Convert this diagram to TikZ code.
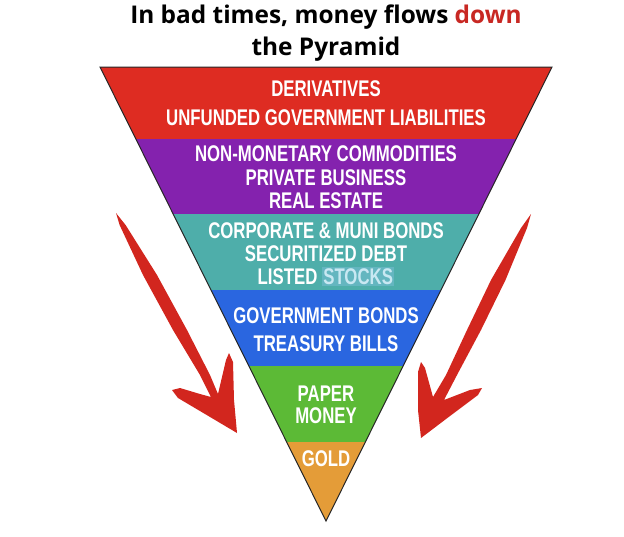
\documentclass[tikz,border=0pt]{standalone}
\usepackage{fontspec}
\setmainfont{Open Sans}
\newfontfamily\bandfont[FakeStretch=0.74]{Liberation Sans}

\definecolor{titlered}{RGB}{200,40,35}
\definecolor{arrowred}{RGB}{210,38,30}
\definecolor{redband}{RGB}{222,44,34}
\definecolor{purpleband}{RGB}{132,34,174}
\definecolor{tealband}{RGB}{78,174,170}
\definecolor{blueband}{RGB}{42,102,224}
\definecolor{greenband}{RGB}{92,186,54}
\definecolor{orangeband}{RGB}{228,156,56}
\definecolor{stockbg}{RGB}{100,182,192}
\definecolor{stockfg}{RGB}{200,232,242}

\tikzset{every picture/.style={line width=0.75pt}}

\begin{document}
\begin{tikzpicture}[x=0.75pt,y=0.75pt,yscale=-1,xscale=1,
  bandtext/.style={font=\bandfont\bfseries\fontsize{17}{20}\selectfont, text=white, inner sep=0pt, text height=12.2pt, text depth=0pt},
  titletext/.style={font=\bfseries\fontsize{18.3}{22}\selectfont, anchor=base, inner sep=0pt}]
\useasboundingbox (0,0) rectangle (624,536);

% title
\node[titletext] (title1) at (326,23.5) {In bad times, money flows \textcolor{titlered}{down}};
\node[titletext] (title2) at (326,55) {the Pyramid};

% bands of the pyramid
\fill[redband] (100,67) -- (552,67) -- (516.2,139) -- (135.8,139) -- cycle;
\fill[purpleband] (135.8,139) -- (516.2,139) -- (478.8,214) -- (173.2,214) -- cycle;
\fill[tealband] (173.2,214) -- (478.8,214) -- (441,290) -- (211,290) -- cycle;
\fill[blueband] (211,290) -- (441,290) -- (403.2,366) -- (248.8,366) -- cycle;
\fill[greenband] (248.8,366) -- (403.2,366) -- (365.3,442) -- (286.7,442) -- cycle;
\fill[orangeband] (286.7,442) -- (365.3,442) -- (326,521) -- cycle;
\draw[black!85] (100,67) -- (552,67) -- (326,521) -- cycle;

% labels
\node[bandtext] (deriv) at (326,88) {DERIVATIVES};
\node[bandtext] (unfunded) at (326,117) {UNFUNDED GOVERNMENT LIABILITIES};
\node[bandtext] (nonmon) at (326,153) {NON-MONETARY COMMODITIES};
\node[bandtext] (private) at (326,177) {PRIVATE BUSINESS};
\node[bandtext] (realestate) at (326,200) {REAL ESTATE};
\node[bandtext] (corporate) at (326,230) {CORPORATE \& MUNI BONDS};
\node[bandtext] (securitized) at (326,253) {SECURITIZED DEBT};
\node[bandtext] (listed) at (326,276) {LISTED \setlength{\fboxsep}{1pt}\colorbox{stockbg}{\textcolor{stockfg}{STOCKS}}};
\node[bandtext] (govbonds) at (326,315) {GOVERNMENT BONDS};
\node[bandtext] (tbills) at (326,343) {TREASURY BILLS};
\node[bandtext] (paper) at (326,393) {PAPER};
\node[bandtext] (money) at (326,415) {MONEY};
\node[bandtext] (gold) at (326,458) {GOLD};

% arrows
\fill[arrowred] (116,213) -- (125.6,225) -- (157,275) -- (187,330) -- (210,375) -- (218,394) -- (226,360) -- (229,353) -- (233,362) -- (234,400) -- (237,433) -- (205,414) -- (178,398) -- (172,390) -- (180,388) -- (200,394) -- (211,397) -- (200,375) -- (173,330) -- (143,275) -- (119.6,225) -- cycle;
\fill[arrowred] (531,214) -- (527,228) -- (505.5,280) -- (481,330) -- (457,375) -- (444,400) -- (470,390) -- (482,388) -- (478,395) -- (450,416) -- (421,438) -- (418,410) -- (418,372) -- (421,362) -- (425,368) -- (433,397) -- (446,375) -- (467,330) -- (491,280) -- (521,228) -- cycle;

\end{tikzpicture}
\end{document}
